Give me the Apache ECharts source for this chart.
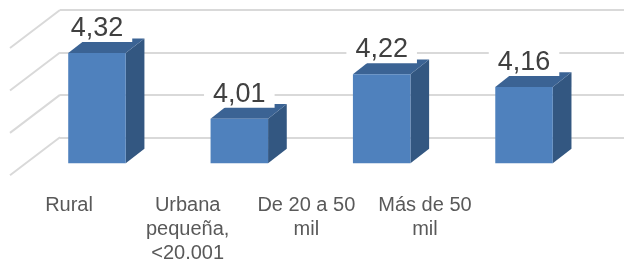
<!DOCTYPE html>
<html style="height: 100%">
<head>
  <meta charset="UTF-8">
  <title>ECharts</title>
  <script src="https://cdn.jsdelivr.net/npm/echarts@6/dist/echarts.min.js"></script>
</head>
<body style="height: 100%; margin: 0; background: #fff">
<div id="main" style="width: 624px; height: 270px"></div>

<script>
  // categories and values
  const categories = ['Rural', 'Urbana\npequeña,\n<20.001', 'De 20 a 50\nmil', 'Más de 50\nmil'];
  const values = [4.32, 4.01, 4.22, 4.16];
  const wallTicks = [3.8, 4.0, 4.2, 4.4];
  const yMin = 3.8;
  const yMax = 4.4;

  const font = 'Liberation Sans, Arial, sans-serif';

  // 3d column: front, top and side faces plus the value label
  function renderBar(params, api) {
    const i = api.value(0);
    const v = api.value(1);
    const top = api.coord([i, v]);
    const base = api.coord([i, yMin]);
    const w = api.size([1, 0])[0] * 0.404;
    const dx = w * 0.325, dy = -w * 0.255;
    const x0 = top[0] - w / 2, x1 = top[0] + w / 2;
    const y0 = top[1], y1 = base[1];
    return {
      type: 'group',
      children: [
        { type: 'polygon', shape: { points: [[x1, y0], [x1 + dx, y0 + dy], [x1 + dx, y1 + dy], [x1, y1]] },
          style: { fill: '#335781' } },
        { type: 'polygon', shape: { points: [[x0, y0], [x0 + dx, y0 + dy], [x1 + dx, y0 + dy], [x1, y0]] },
          style: { fill: '#3b6394' } },
        { type: 'rect', shape: { x: x0, y: y0, width: w, height: y1 - y0 },
          style: { fill: '#4f81bd' } },
        { type: 'text', z2: 10,
          style: { text: String(v).replace('.', ','), x: top[0], y: y0 - 11,
            align: 'center', verticalAlign: 'bottom', font: '27px ' + font, fill: '#404040',
            backgroundColor: '#fff', padding: [2, 9, 0, 9] } }
      ]
    };
  }

  // left wall lines, one per back-wall gridline
  function renderWall(params, api) {
    const p = api.coord([0, api.value(0)]);
    return {
      type: 'line',
      shape: { x1: p[0], y1: p[1], x2: p[0] - 50, y2: p[1] + 38 },
      style: { stroke: '#d9d9d9', lineWidth: 2 }
    };
  }

  const option = {
    animation: false,
    grid: [
      { left: 25.8, right: 28.8, top: 36.1, bottom: 106.7 },
      { left: 60, right: 0, top: 10, bottom: 132.7 },
      { left: 9.7, right: 139.7, top: 100, bottom: 90 }
    ],
    xAxis: [
      { gridIndex: 0, type: 'category', data: categories, show: false },
      { gridIndex: 1, type: 'value', min: 0, max: 1, show: false },
      { gridIndex: 2, type: 'category', data: categories,
        axisLine: { show: false }, axisTick: { show: false },
        axisLabel: { interval: 0, margin: 13, fontFamily: font, fontSize: 20, lineHeight: 24, color: '#595959' } }
    ],
    yAxis: [
      { gridIndex: 0, type: 'value', min: yMin, max: yMax, show: false },
      { gridIndex: 1, type: 'value', min: yMin, max: yMax, interval: 0.2,
        axisLine: { show: false }, axisTick: { show: false }, axisLabel: { show: false },
        splitLine: { lineStyle: { color: '#d9d9d9', width: 2 } } },
      { gridIndex: 2, type: 'value', show: false }
    ],
    series: [
      { type: 'custom', xAxisIndex: 1, yAxisIndex: 1, renderItem: renderWall,
        data: wallTicks.map(t => [t]), silent: true, z: 1 },
      { type: 'custom', xAxisIndex: 0, yAxisIndex: 0, renderItem: renderBar,
        data: values.map((v, i) => [i, v]), z: 5 }
    ]
  };

  const chart = echarts.init(document.getElementById('main'));
  chart.setOption(option);
</script>
</body>
</html>
